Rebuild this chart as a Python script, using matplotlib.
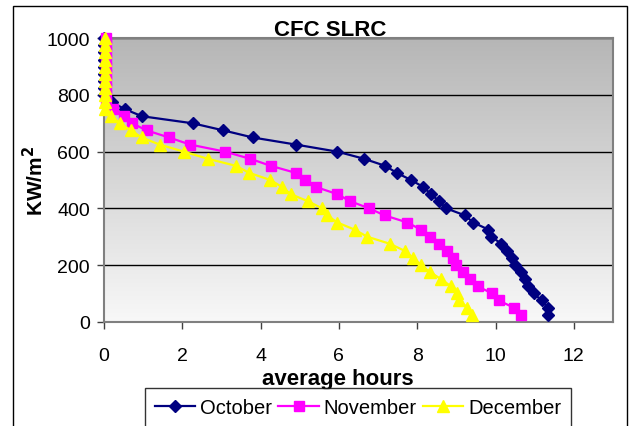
import numpy as np
import matplotlib
matplotlib.use('Agg')
import matplotlib.pyplot as plt
from matplotlib.patches import Rectangle
from matplotlib.colors import LinearSegmentedColormap

plt.rcParams['font.family'] = ['Liberation Sans', 'DejaVu Sans']

irradiance = [1000, 975, 950, 925, 900, 875, 850, 825, 800, 775,
              750, 725, 700, 675, 650, 625, 600, 575, 550, 525,
              500, 475, 450, 425, 400, 375, 350, 325, 300, 275,
              250, 225, 200, 175, 150, 125, 100, 75, 50, 25]

october_hours = [0, 0, 0, 0, 0, 0, 0, 0, 0,
                 0.2, 0.53, 0.97, 2.27, 3.05, 3.8, 4.9, 5.96, 6.64, 7.18,
                 7.48, 7.84, 8.16, 8.35, 8.56, 8.74, 9.22, 9.43, 9.82, 9.89,
                 10.15, 10.3, 10.41, 10.49, 10.66, 10.74, 10.84, 10.97, 11.18, 11.33,
                 11.35]
november_hours = [0.05] * 10 + [
                 0.24, 0.52, 0.72, 1.09, 1.66, 2.2, 3.09, 3.73, 4.26, 4.9,
                 5.13, 5.42, 5.96, 6.29, 6.77, 7.17, 7.75, 8.09, 8.33, 8.56,
                 8.76, 8.91, 8.99, 9.17, 9.36, 9.54, 9.91, 10.08, 10.46, 10.66]
december_hours = [0.02] * 11 + [
                 0.19, 0.41, 0.69, 0.96, 1.42, 2.04, 2.65, 3.37, 3.71, 4.25,
                 4.55, 4.77, 5.21, 5.57, 5.7, 5.96, 6.4, 6.72, 7.3, 7.68,
                 7.89, 8.09, 8.33, 8.61, 8.86, 9.02, 9.07, 9.28, 9.4]

x_ticks = [0, 2, 4, 6, 8, 10, 12]
y_ticks = [0, 200, 400, 600, 800, 1000]

fig = plt.figure(figsize=(6.31, 4.27), dpi=100)
fig.patch.set_facecolor('white')

# outer chart-area border
fig.patches.append(Rectangle((13 / 631, -0.05), (627 - 13) / 631, 1.05 - 7 / 427,
                             transform=fig.transFigure, fill=False,
                             edgecolor='black', linewidth=1.0))

ax = fig.add_axes([104 / 631, 1 - 322.7 / 427, (613 - 104) / 631, (322.7 - 39.3) / 427])

# gradient background: dark at top, light at bottom
grad = np.linspace(0, 1, 256).reshape(-1, 1)
cmap = LinearSegmentedColormap.from_list('g', ['#f8f8f8', '#b6b6b6'])
ax.imshow(grad, extent=[0, 13, 0, 1000], origin='lower', aspect='auto',
          cmap=cmap, zorder=0, interpolation='bicubic')
ax.set_xlim(0, 13)
ax.set_ylim(0, 1000)

ax.set_yticks(y_ticks)
ax.set_xticks(x_ticks)
ax.grid(axis='y', color='black', linewidth=1.0, zorder=1)
ax.set_axisbelow(True)
for s in ax.spines.values():
    s.set_color('#808080')
    s.set_linewidth(1.5)

ax.tick_params(axis='both', direction='out', length=5, color='#404040', width=1,
               labelsize=14)
ax.tick_params(axis='x', pad=13)
ax.tick_params(axis='y', pad=5)

l1, = ax.plot(october_hours, irradiance, color='#000080', linewidth=1.6,
              marker='D', markersize=6, markeredgecolor='#000080', zorder=3,
              label='October', clip_on=False)
l2, = ax.plot(november_hours, irradiance, color='#ff00ff', linewidth=1.6,
              marker='s', markersize=7, markeredgecolor='#ff00ff', zorder=4,
              label='November', clip_on=False)
l3, = ax.plot(december_hours, irradiance, color='#ffff00', linewidth=1.6,
              marker='^', markersize=8, markeredgecolor='#ffff00', zorder=5,
              label='December', clip_on=False)

ax.set_xlabel('average hours', fontsize=16, fontweight='bold', labelpad=0)
ax.set_ylabel(r'KW/m$^{\mathbf{2}}$', fontsize=15, fontweight='bold', labelpad=4)
ax.yaxis.set_label_coords(-0.112, 0.5)
ax.xaxis.set_label_coords(0.46, -0.163)

fig.text(330 / 631, 1 - 30 / 427, 'CFC SLRC', fontsize=16, fontweight='bold',
         ha='center', va='center')

leg = fig.legend(handles=[l1, l2, l3], loc='upper left',
                 bbox_to_anchor=(145 / 631, 1 - 389 / 427), ncol=3,
                 fontsize=14.5, frameon=True, fancybox=False, handlelength=2.0,
                 columnspacing=0.3, handletextpad=0.25, borderpad=0.5,
                 borderaxespad=0, edgecolor='black')
leg.get_frame().set_linewidth(1.0)

fig.savefig('out.png', dpi=100)
